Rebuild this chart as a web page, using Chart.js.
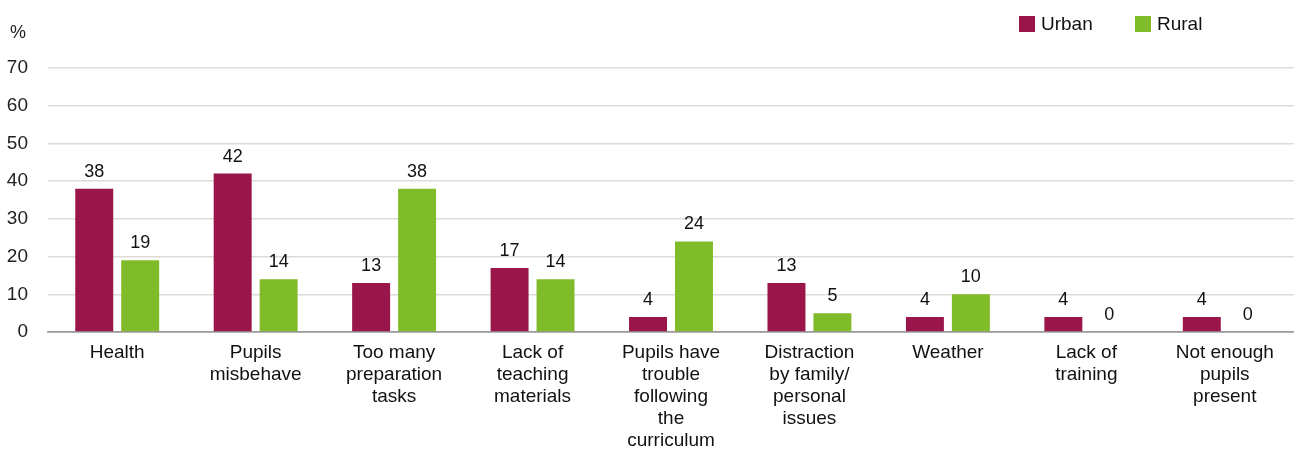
<!DOCTYPE html>
<html>
<head>
<meta charset="utf-8">
<script src="https://cdn.jsdelivr.net/npm/chart.js@4"></script>
<style>
  body { margin: 0; background: #fff; font-family: "Liberation Sans", Arial, sans-serif; }
  .wrap { position: relative; width: 1294px; height: 450px; }
  .unit { position: absolute; left: 10px; top: 22px; font-size: 18px; color: #222; }
  .legend { position: absolute; left: 1019px; top: 13px; font-size: 19px; color: #111; display: flex; }
  .legend span { display: flex; align-items: center; }
  .legend i { display: inline-block; width: 16px; height: 16px; margin-right: 6px; }
</style>
</head>
<body>
<div class="wrap">
  <canvas id="chart" width="1294" height="450"></canvas>
  <div class="unit">%</div>
  <div class="legend">
    <span style="width:116px"><i style="background:#9a1549"></i>Urban</span>
    <span><i style="background:#80bb29"></i>Rural</span>
  </div>
</div>
<script>
const categories = [
  ['Health'],
  ['Pupils', 'misbehave'],
  ['Too many', 'preparation', 'tasks'],
  ['Lack of', 'teaching', 'materials'],
  ['Pupils have', 'trouble', 'following', 'the', 'curriculum'],
  ['Distraction', 'by family/', 'personal', 'issues'],
  ['Weather'],
  ['Lack of', 'training'],
  ['Not enough', 'pupils', 'present']
];
const urban = [38, 42, 13, 17, 4, 13, 4, 4, 4];
const rural = [19, 14, 38, 14, 24, 5, 10, 0, 0];
const yTicks = [0, 10, 20, 30, 40, 50, 60, 70];

// value labels above each bar
const barLabels = {
  id: 'barLabels',
  afterDatasetsDraw(chart) {
    const ctx = chart.ctx;
    ctx.save();
    ctx.font = '18px "Liberation Sans", Arial, sans-serif';
    ctx.fillStyle = '#111';
    ctx.textAlign = 'center';
    ctx.textBaseline = 'bottom';
    chart.data.datasets.forEach((ds, i) => {
      chart.getDatasetMeta(i).data.forEach((bar, j) => {
        ctx.fillText(ds.data[j], bar.x, bar.y - 8);
      });
    });
    ctx.restore();
  }
};

new Chart(document.getElementById('chart'), {
  type: 'bar',
  data: {
    labels: categories,
    datasets: [
      { label: 'Urban', data: urban, backgroundColor: '#9a1549' },
      { label: 'Rural', data: rural, backgroundColor: '#80bb29' }
    ]
  },
  options: {
    responsive: false,
    animation: false,
    layout: { padding: { top: 68, right: 0, left: 0, bottom: 0 } },
    plugins: { legend: { display: false }, tooltip: { enabled: false } },
    datasets: { bar: { categoryPercentage: 0.664, barPercentage: 0.826 } },
    scales: {
      x: {
        afterFit(axis) { axis.height = 118; },
        grid: { display: false },
        border: { color: '#999', width: 1.5 },
        ticks: {
          color: '#111',
          font: { size: 19, lineHeight: 1.16, family: '"Liberation Sans", Arial, sans-serif' },
          maxRotation: 0,
          autoSkip: false,
          padding: 2
        }
      },
      y: {
        min: 0,
        max: 70,
        afterFit(axis) { axis.width = 48; },
        afterBuildTicks(axis) { axis.ticks = yTicks.map(v => ({ value: v })); },
        border: { display: false },
        grid: {
          color: c => c.tick.value === 0 ? '#999' : '#dedbd6',
          lineWidth: 1.5,
          drawTicks: false
        },
        ticks: {
          color: '#222',
          font: { size: 19, family: '"Liberation Sans", Arial, sans-serif' },
          padding: 20
        }
      }
    }
  },
  plugins: [barLabels]
});
</script>
</body>
</html>
